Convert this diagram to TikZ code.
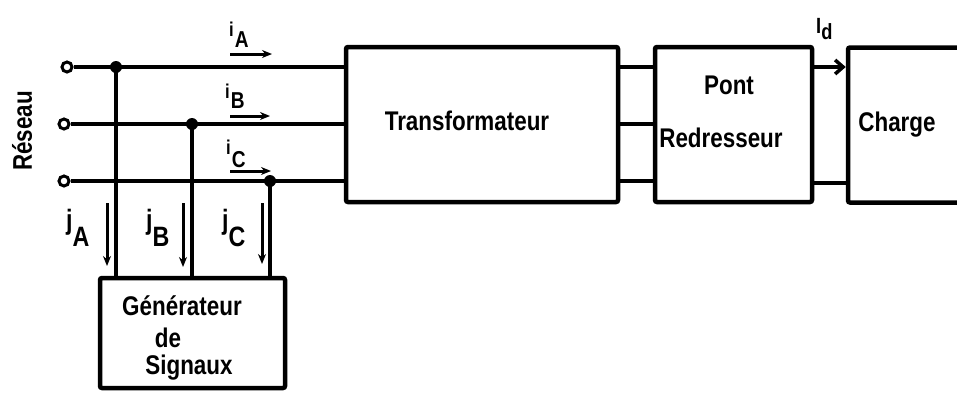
\documentclass[tikz,border=0pt]{standalone}
\usepackage{fontspec}
\setmainfont{Liberation Sans}
\newfontfamily\hand[FakeStretch=0.83]{Liberation Sans}
\usetikzlibrary{arrows.meta}
\begin{document}
\begin{tikzpicture}[x=1pt,y=-1pt,
  wire/.style={line width=4.5pt},
  box/.style={draw, line width=4.5pt, rounded corners=2pt, inner sep=0pt},
  term/.style={circle, draw, line width=3pt, fill=white, minimum size=10pt, inner sep=0pt},
  junc/.style={circle, fill, minimum size=12pt, inner sep=0pt},
  txt/.style={font=\hand\bfseries\fontsize{27}{30}\selectfont, inner sep=0pt},
  ilab/.style={font=\hand\bfseries\fontsize{20}{22}\selectfont, inner sep=0pt},
  jlab/.style={font=\hand\bfseries\fontsize{28}{30}\selectfont, inner sep=0pt},
  cur/.style={line width=3pt, -{Stealth[length=10pt,width=8pt]}},
]
\useasboundingbox (0,0) rectangle (957,394);
\clip (0,0) rectangle (957,394);
% boxes
\node[box, minimum width=272pt, minimum height=155pt] (T) at (482,124.5) {};
\node[box, minimum width=157pt, minimum height=155pt] (P) at (733.5,124.5) {};
\node[box, minimum width=162pt, minimum height=155pt] (Ch) at (929,125) {};
\node[box, minimum width=185pt, minimum height=110pt] (G) at (192.5,333) {};
% texts
\node[txt] (tT) at (467,121) {Transformateur};
\node[txt] (tP1) at (729,85) {Pont};
\node[txt] (tP2) at (721,138) {Redresseur};
\node[txt] (tCh) at (897,125) {Charge};
\node[txt] (tG1) at (182,306) {Générateur};
\node[txt] (tG2) at (168,338) {de};
\node[txt] (tG3) at (189,368) {Signaux};
\node[txt, rotate=90] (res) at (22,131) {Réseau};
% rows
\coordinate (rA) at (0,67);
\coordinate (rB) at (0,124);
\coordinate (rC) at (0,181);
\coordinate (rC2) at (0,183);
% terminals
\node[term] (tA) at (67,67) {};
\node[term] (tB) at (64,124) {};
\node[term] (tC) at (64,181) {};
\draw[wire] (tA) -- (tA -| T.west);
\draw[wire] (tB) -- (tB -| T.west);
\draw[wire] (tC) -- (tC -| T.west);
% junctions and taps
\node[junc] (dA) at (116,67) {};
\node[junc] (dB) at (192,124) {};
\node[junc] (dC) at (270,181) {};
\draw[wire] (dA.center) -- (dA.center |- G.north);
\draw[wire] (dB.center) -- (dB.center |- G.north);
\draw[wire] (dC.center) -- (dC.center |- G.north);
% transformer to bridge
\draw[wire] (T.east |- rA) -- (P.west |- rA);
\draw[wire] (T.east |- rB) -- (P.west |- rB);
\draw[wire] (T.east |- rC) -- (P.west |- rC);
% bridge to load
\draw[wire, -{Straight Barb[length=8pt,width=14pt,line width=3.5pt]}] (P.east |- rA) -- (Ch.west |- rA);
\draw[wire] (P.east |- rC2) -- (Ch.west |- rC2);
% current arrows i
\coordinate (iA1) at (230,54); \coordinate (iA2) at (272,54);
\coordinate (iB1) at (230,116); \coordinate (iB2) at (270,116);
\coordinate (iC1) at (230,171); \coordinate (iC2) at (271,171);
\draw[cur] (iA1) -- (iA2);
\draw[cur] (iB1) -- (iB2);
\draw[cur] (iC1) -- (iC2);
\node[ilab, anchor=base west] (liA) at (229,36) {i\kern1pt\raisebox{-11pt}{\fontsize{23}{24}\selectfont A}};
\node[ilab, anchor=base west] (liB) at (225,98) {i\kern1pt\raisebox{-10pt}{\fontsize{23}{24}\selectfont B}};
\node[ilab, anchor=base west] (liC) at (226,154) {i\kern1pt\raisebox{-13pt}{\fontsize{23}{24}\selectfont C}};
% current arrows j
\coordinate (jA1) at (107,203); \coordinate (jA2) at (107,266);
\coordinate (jB1) at (183,203); \coordinate (jB2) at (183,267);
\coordinate (jC1) at (262,203); \coordinate (jC2) at (262,264);
\draw[cur] (jA1) -- (jA2);
\draw[cur] (jB1) -- (jB2);
\draw[cur] (jC1) -- (jC2);
\node[jlab, anchor=base west] (ljA) at (66,229) {j\raisebox{-17pt}{A}};
\node[jlab, anchor=base west] (ljB) at (146,229) {j\raisebox{-17pt}{B}};
\node[jlab, anchor=base west] (ljC) at (222,229) {j\raisebox{-17pt}{C}};
% Id
\node[ilab, anchor=base west] (lId) at (816,33) {\fontsize{22}{24}\selectfont I\raisebox{-6pt}{d}};
\end{tikzpicture}
\end{document}
